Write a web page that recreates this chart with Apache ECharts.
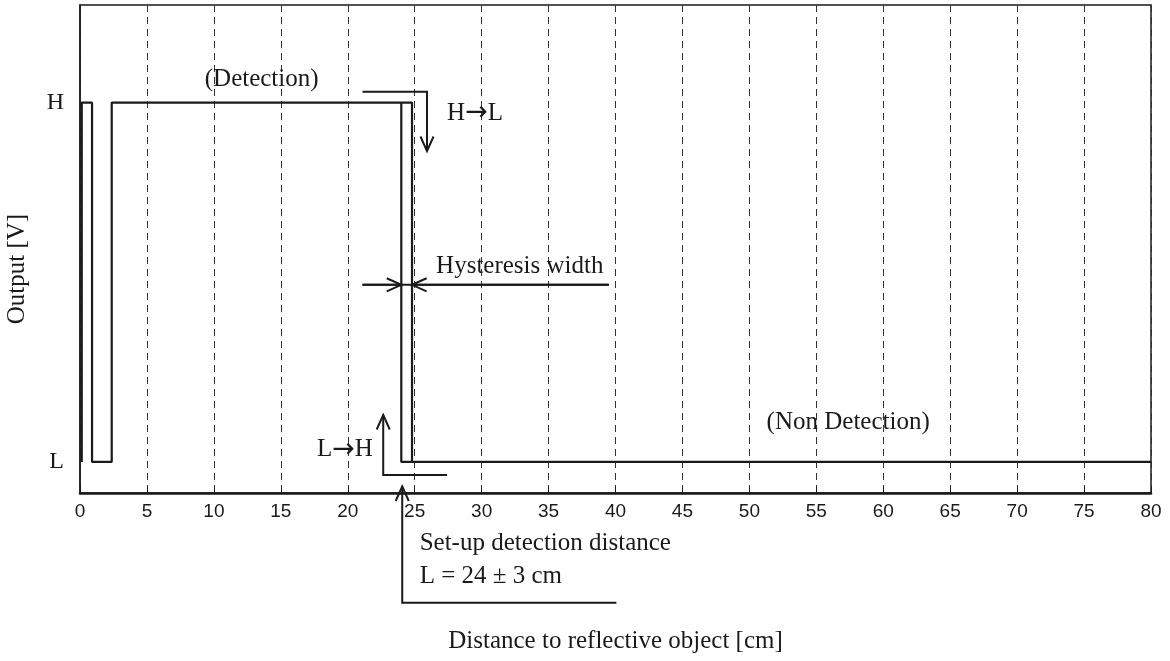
<!DOCTYPE html>
<html>
<head>
<meta charset="utf-8">
<title>Output vs distance</title>
<script src="https://cdn.jsdelivr.net/npm/echarts@6/dist/echarts.min.js"></script>
<style>
  html, body { margin: 0; padding: 0; background: #fff; }
  #chart { width: 1170px; height: 661px; }
</style>
</head>
<body>
<div id="chart"></div>
<script>
// x = distance [cm], y = output level (L = 0, H = 1)
const outputTrace = [[0.13, 0], [0.13, 1], [0.9, 1], [0.9, 0], [2.37, 0], [2.37, 1], [24.8, 1], [24.8, 0], [80, 0]]
const hysteresisEdge = [[24.0, 1], [24.0, 0], [24.8, 0]]

const xTicks = [0, 5, 10, 15, 20, 25, 30, 35, 40, 45, 50, 55, 60, 65, 70, 75, 80]
const levelValues = [0, 1]
const levelNames = ['L', 'H']

// annotation arrows, in data units
const detectArrow = [[21.1, 1.03], [25.92, 1.03], [25.92, 0.865]]
const hystLine = [[21.1, 0.493], [39.5, 0.493]]
const hystArrowLeft = [[21.1, 0.493], [24.0, 0.493]]
const hystArrowRight = [[39.5, 0.493], [24.8, 0.493]]
const lhArrow = [[27.42, -0.036], [22.65, -0.036], [22.65, 0.131]]
const setupArrow = [[40.07, -0.392], [24.07, -0.392], [24.07, -0.068]]

// annotation texts: [x, y, text, align]
const labelDetection = [13.57, 1.064, '(Detection)', 'center']
const labelHL = [27.42, 0.971, 'H{arr|\u2192}L', 'left']
const labelHyst = [26.6, 0.544, 'Hysteresis width', 'left']
const labelLH = [21.88, 0.034, 'L{arr|\u2192}H', 'right']
const labelNonDetection = [57.38, 0.11, '(Non Detection)', 'center']
const labelSetup = [25.37, -0.2265, 'Set-up detection distance', 'left']
const labelL = [25.37, -0.3195, 'L = 24 \u00b1 3 cm', 'left']

const arrows = [
  { pts: detectArrow, head: true },
  { pts: hystLine, head: false },
  { pts: hystArrowLeft, head: true },
  { pts: hystArrowRight, head: true },
  { pts: lhArrow, head: true },
  { pts: setupArrow, head: true },
]
const labels = [labelDetection, labelHL, labelHyst, labelLH, labelNonDetection, labelSetup, labelL]

const ink = '#1a1a1a'
const serif = '"Liberation Serif", "DejaVu Serif", serif'

function renderArrow(params, api) {
  const a = arrows[params.dataIndex]
  const pts = a.pts.map((p) => api.coord(p))
  const children = [
    { type: 'polyline', shape: { points: pts }, style: { stroke: ink, lineWidth: 2, fill: null } },
  ]
  if (a.head) {
    const p1 = pts[pts.length - 2]
    const p2 = pts[pts.length - 1]
    const ang = Math.atan2(p2[1] - p1[1], p2[0] - p1[0])
    const len = 16
    const spread = 0.42
    const w1 = [p2[0] - len * Math.cos(ang - spread), p2[1] - len * Math.sin(ang - spread)]
    const w2 = [p2[0] - len * Math.cos(ang + spread), p2[1] - len * Math.sin(ang + spread)]
    children.push({
      type: 'polyline',
      shape: { points: [w1, p2, w2] },
      style: { stroke: ink, lineWidth: 2, fill: null },
    })
  }
  return { type: 'group', children }
}

function renderLabel(params, api) {
  const l = labels[params.dataIndex]
  const p = api.coord([l[0], l[1]])
  return {
    type: 'text',
    x: p[0],
    y: p[1],
    style: {
      text: l[2],
      fill: ink,
      font: '25px ' + serif,
      align: l[3],
      verticalAlign: 'middle',
      rich: {
        arr: { fontFamily: '"DejaVu Sans"', fontSize: 27, fill: ink },
      },
    },
  }
}

const chart = echarts.init(document.getElementById('chart'))
chart.setOption({
  animation: false,
  grid: {
    left: 80,
    right: 19,
    top: 5,
    bottom: 168,
    outerBoundsMode: 'none',
    show: true,
    borderColor: ink,
    borderWidth: 1.5,
  },
  xAxis: {
    type: 'value',
    min: 0,
    max: 80,
    interval: 5,
    name: 'Distance to reflective object [cm]',
    nameLocation: 'middle',
    nameGap: 136,
    nameTextStyle: { fontFamily: serif, fontSize: 25, color: ink },
    axisLine: { show: true, onZero: false, lineStyle: { color: ink, width: 2.5 } },
    axisTick: { show: true, inside: true, length: 6, lineStyle: { color: ink, width: 1 } },
    axisLabel: {
      fontFamily: '"Liberation Sans", Arial, sans-serif',
      fontSize: 19,
      color: ink,
      margin: 9,
      formatter: (v) => (xTicks.includes(v) ? String(v) : ''),
    },
    splitLine: {
      show: true,
      lineStyle: { color: '#333', width: 1, type: [7, 5] },
    },
  },
  yAxis: {
    type: 'value',
    min: -0.0864,
    max: 1.2716,
    name: 'Output [V]',
    nameLocation: 'middle',
    nameGap: 50,
    nameTextStyle: { fontFamily: serif, fontSize: 25, color: ink, padding: [0, 40, 0, 0] },
    axisLine: { show: true, lineStyle: { color: ink, width: 1.5 } },
    axisTick: { show: false },
    splitLine: { show: false },
    axisLabel: {
      customValues: levelValues,
      fontFamily: serif,
      fontSize: 24,
      color: ink,
      margin: 16,
      formatter: (v) => levelNames[levelValues.indexOf(v)] ?? '',
    },
  },
  series: [
    {
      type: 'line',
      data: outputTrace,
      symbol: 'none',
      clip: false,
      lineStyle: { color: ink, width: 2.2 },
      z: 5,
    },
    {
      type: 'line',
      data: hysteresisEdge,
      symbol: 'none',
      clip: false,
      lineStyle: { color: ink, width: 2.2 },
      z: 5,
    },
    {
      type: 'custom',
      renderItem: renderArrow,
      data: arrows.map((a) => a.pts[a.pts.length - 1]),
      clip: false,
      silent: true,
      z: 6,
    },
    {
      type: 'custom',
      renderItem: renderLabel,
      data: labels.map((l) => [l[0], l[1]]),
      clip: false,
      silent: true,
      z: 6,
    },
  ],
})
</script>
</body>
</html>
